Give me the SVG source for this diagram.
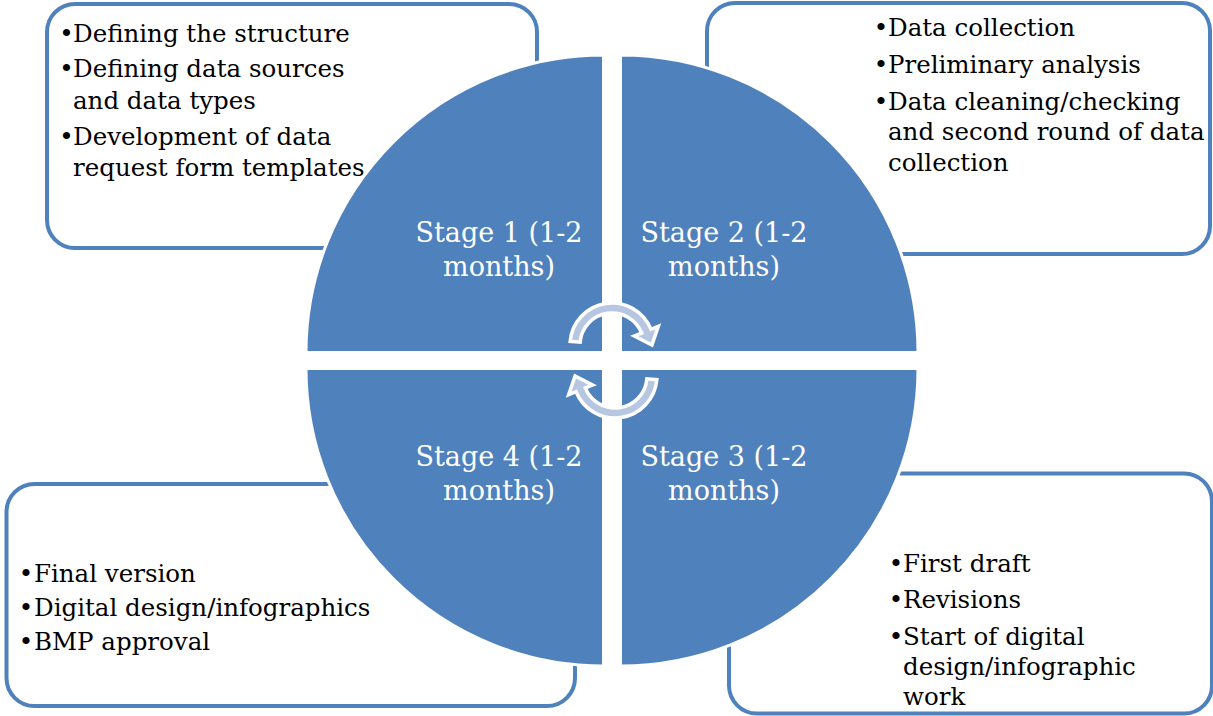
<svg xmlns="http://www.w3.org/2000/svg" xmlns:xlink="http://www.w3.org/1999/xlink" width="1213" height="716" viewBox="0 0 1213 716">
<defs>
<style>
.box{fill:#fff;stroke:#4f81bd;stroke-width:4}
.q{fill:#4f81bd;stroke:#fff;stroke-width:3}
.t{font-family:"DejaVu Serif","Liberation Serif",serif;font-size:24.5px;fill:#000}
.b{font-family:"DejaVu Serif","Liberation Serif",serif;font-size:24.5px;fill:#000;text-anchor:middle}
.s{font-family:"DejaVu Serif","Liberation Serif",serif;font-size:27px;fill:#fff;text-anchor:middle}
.arrow{fill:#b7c7e2;stroke:#fff;stroke-width:3.5;stroke-linejoin:miter}
</style>
<path id="ca" class="arrow" d="M-41.84,-3.66 A42,42 0 0 1 38.94,-15.73 L46.36,-18.73 L39.93,0.05 L22.26,-8.99 L29.67,-11.99 A32,32 0 0 0 -31.88,-2.79 Z"/>
</defs>
<rect width="1213" height="716" fill="#fff"/>

<g id="box1">
<rect class="box" x="47" y="4" width="490" height="244" rx="28"/>
<text class="b" x="66.5" y="42">•</text><text class="t" x="73" y="42">Defining the structure</text>
<text class="b" x="66.5" y="77">•</text><text class="t" x="73" y="77">Defining data sources</text>
<text class="t" x="73" y="108.5">and data types</text>
<text class="b" x="66.5" y="145">•</text><text class="t" x="73" y="145">Development of data</text>
<text class="t" x="73" y="175.5">request form templates</text>
</g>

<g id="box2">
<rect class="box" x="707" y="3" width="503" height="251" rx="28"/>
<text class="b" x="881" y="36">•</text><text class="t" x="888" y="36">Data collection</text>
<text class="b" x="881" y="73">•</text><text class="t" x="888" y="73">Preliminary analysis</text>
<text class="b" x="881" y="110">•</text><text class="t" x="888" y="110">Data cleaning/checking</text>
<text class="t" x="888" y="140">and second round of data</text>
<text class="t" x="888" y="171">collection</text>
</g>

<g id="box3">
<rect class="box" x="6.5" y="484" width="568.5" height="222" rx="28"/>
<text class="b" x="26" y="582">•</text><text class="t" x="34" y="582">Final version</text>
<text class="b" x="26" y="616">•</text><text class="t" x="34" y="616">Digital design/infographics</text>
<text class="b" x="26" y="650">•</text><text class="t" x="34" y="650">BMP approval</text>
</g>

<g id="box4">
<rect class="box" x="729" y="473.5" width="483" height="240" rx="28"/>
<text class="b" x="896" y="572">•</text><text class="t" x="903" y="572">First draft</text>
<text class="b" x="896" y="608">•</text><text class="t" x="903" y="608">Revisions</text>
<text class="b" x="896" y="645">•</text><text class="t" x="903" y="645">Start of digital</text>
<text class="t" x="903" y="675">design/infographic</text>
<text class="t" x="903" y="705">work</text>
</g>

<g id="stage1">
<path class="q" d="M603.5,352.5 H306 A297.5,297.5 0 0 1 603.5,55 Z"/>
<text class="s" x="499" y="242">Stage 1 (1-2</text>
<text class="s" x="499" y="276">months)</text>
</g>
<g id="stage2">
<path class="q" d="M620.5,352.5 V55 A297.5,297.5 0 0 1 918,352.5 Z"/>
<text class="s" x="724" y="242">Stage 2 (1-2</text>
<text class="s" x="724" y="276">months)</text>
</g>
<g id="stage3">
<path class="q" d="M620.5,368.5 H918 A297.5,297.5 0 0 1 620.5,666 Z"/>
<text class="s" x="724" y="466">Stage 3 (1-2</text>
<text class="s" x="724" y="500">months)</text>
</g>
<g id="stage4">
<path class="q" d="M603.5,368.5 V666 A297.5,297.5 0 0 1 306,368.5 Z"/>
<text class="s" x="499" y="466">Stage 4 (1-2</text>
<text class="s" x="499" y="500">months)</text>
</g>

<g id="connectors">
<use xlink:href="#ca" href="#ca" transform="translate(612,345)"/>
<use xlink:href="#ca" href="#ca" transform="translate(615,376) rotate(180)"/>
</g>
</svg>
